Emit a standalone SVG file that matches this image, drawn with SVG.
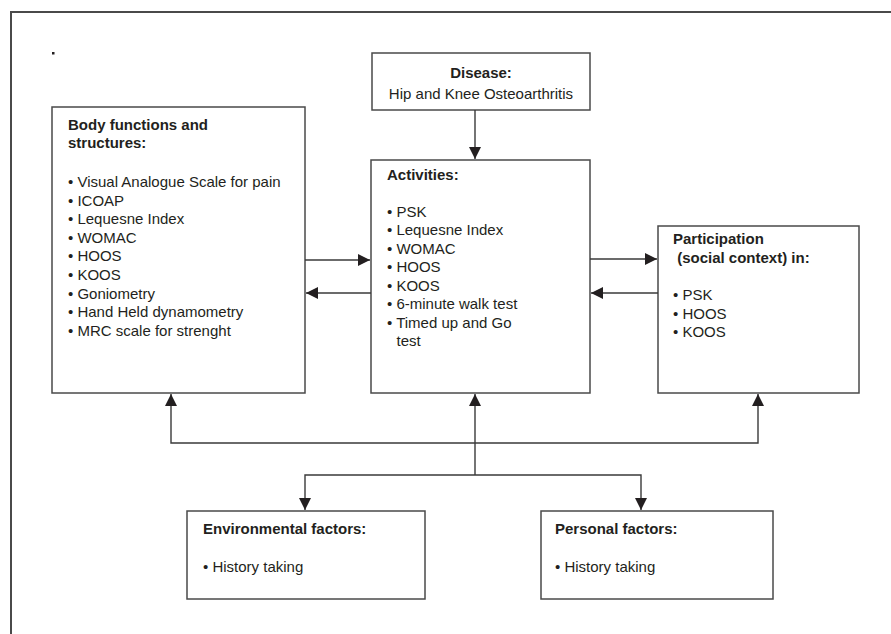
<svg xmlns="http://www.w3.org/2000/svg" width="891" height="634" viewBox="0 0 891 634">
<style>
.box{fill:#fff;stroke:#4a4a4a;stroke-width:1.5}
.frame{fill:none;stroke:#4a4a4a;stroke-width:2}
.con{fill:none;stroke:#3a3a3a;stroke-width:1.4}
text{font-family:"Liberation Sans",Arial,sans-serif;font-size:15px;fill:#231f20}
.b{font-weight:bold}
</style>
<defs>
<marker id="ah" viewBox="0 0 12 12" refX="12" refY="6" markerWidth="12" markerHeight="12" markerUnits="userSpaceOnUse" orient="auto-start-reverse">
<path d="M0,0 L12,6 L0,12 Z" fill="#231f20"/>
</marker>
</defs>
<rect width="891" height="634" fill="#fff"/>
<path class="frame" d="M11,634 V12 H891"/>
<rect x="52" y="52" width="2.5" height="2.5" fill="#231f20"/>

<g id="disease">
<rect class="box" x="372" y="53" width="218" height="57"/>
<text class="b" x="481" y="78" text-anchor="middle">Disease:</text>
<text x="481" y="99" text-anchor="middle">Hip and Knee Osteoarthritis</text>
</g>

<g id="body">
<rect class="box" x="52" y="107" width="253" height="286"/>
<text class="b" x="68" y="130">Body functions and</text>
<text class="b" x="68" y="148">structures:</text>
<text x="68" y="187">• Visual Analogue Scale for pain</text>
<text x="68" y="205.6">• ICOAP</text>
<text x="68" y="224.2">• Lequesne Index</text>
<text x="68" y="242.8">• WOMAC</text>
<text x="68" y="261.4">• HOOS</text>
<text x="68" y="280">• KOOS</text>
<text x="68" y="298.6">• Goniometry</text>
<text x="68" y="317.2">• Hand Held dynamometry</text>
<text x="68" y="335.8">• MRC scale for strenght</text>
</g>

<g id="activities">
<rect class="box" x="371" y="160" width="219" height="233"/>
<text class="b" x="387" y="180">Activities:</text>
<text x="387" y="216.5">• PSK</text>
<text x="387" y="235">• Lequesne Index</text>
<text x="387" y="253.5">• WOMAC</text>
<text x="387" y="272">• HOOS</text>
<text x="387" y="290.5">• KOOS</text>
<text x="387" y="309">• 6-minute walk test</text>
<text x="387" y="327.5">• Timed up and Go</text>
<text x="396.5" y="346">test</text>
</g>

<g id="participation">
<rect class="box" x="658" y="226" width="201" height="167"/>
<text class="b" x="673" y="244">Participation</text>
<text class="b" x="673" y="263" xml:space="preserve"> (social context) in:</text>
<text x="673" y="300">• PSK</text>
<text x="673" y="318.5">• HOOS</text>
<text x="673" y="337">• KOOS</text>
</g>

<g id="environmental">
<rect class="box" x="187" y="511" width="238" height="88"/>
<text class="b" x="203" y="534">Environmental factors:</text>
<text x="203" y="572">• History taking</text>
</g>

<g id="personal">
<rect class="box" x="541" y="511" width="232" height="88"/>
<text class="b" x="555" y="534">Personal factors:</text>
<text x="555" y="572">• History taking</text>
</g>

<g id="connectors">
<path class="con" d="M475,110 V159" marker-end="url(#ah)"/>
<path class="con" d="M305,260 H370" marker-end="url(#ah)"/>
<path class="con" d="M371,293 H306" marker-end="url(#ah)"/>
<path class="con" d="M590,259 H657" marker-end="url(#ah)"/>
<path class="con" d="M658,293 H591" marker-end="url(#ah)"/>
<path class="con" d="M475,475 V394" marker-end="url(#ah)"/>
<path class="con" d="M171,394 V443 H758 V394" marker-start="url(#ah)" marker-end="url(#ah)"/>
<path class="con" d="M305,510 V475 H641 V510" marker-start="url(#ah)" marker-end="url(#ah)"/>
</g>
</svg>
